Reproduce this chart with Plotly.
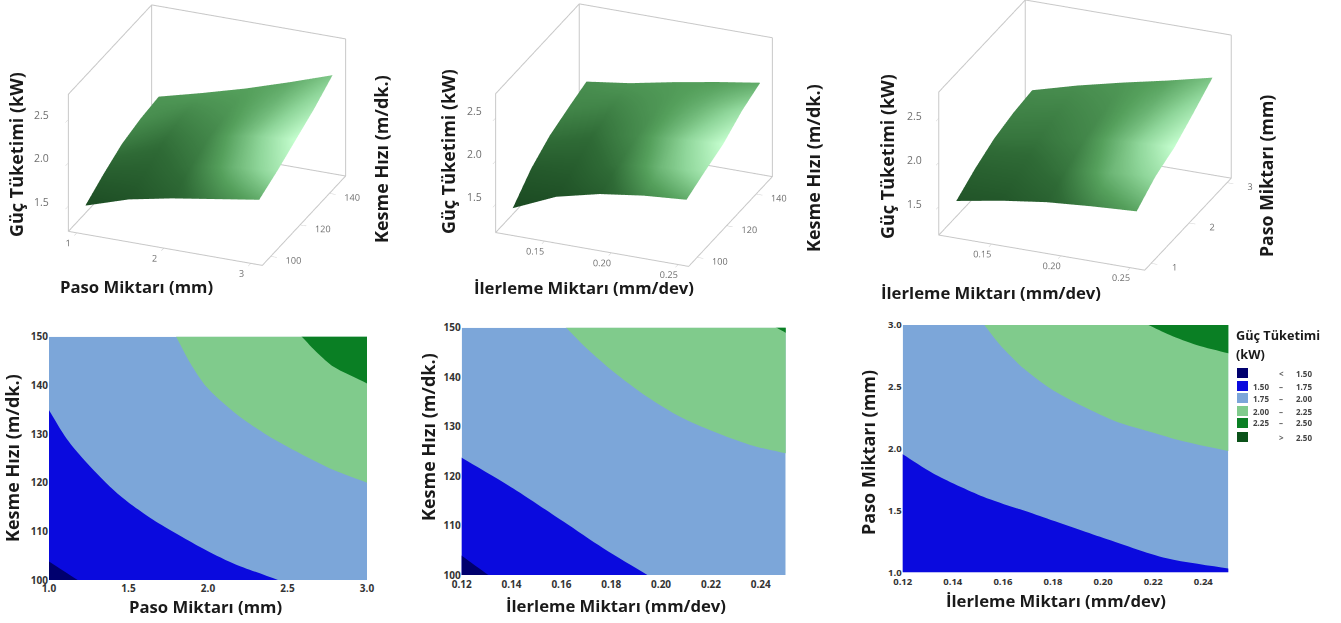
import plotly.graph_objects as go

W, H = 1341, 623
FONT = "Open Sans"

# ---------- surface data ----------
paso_grid = [1, 1.5, 2, 2.5, 3]
feed_grid = [0.12, 0.1525, 0.185, 0.2175, 0.25]
speed_grid = [100, 112.5, 125, 137.5, 150]
power_ticks = [1.5, 2.0, 2.5]

power_a = [[1.42, 1.58, 1.68, 1.76, 1.84],
           [1.56, 1.70, 1.82, 1.90, 1.95],
           [1.68, 1.82, 1.94, 2.03, 2.08],
           [1.74, 1.88, 1.99, 2.11, 2.21],
           [1.77, 1.90, 2.04, 2.20, 2.37]]
power_b = [[1.37, 1.59, 1.71, 1.78, 1.82],
           [1.60, 1.72, 1.82, 1.88, 1.92],
           [1.75, 1.85, 1.92, 1.97, 2.01],
           [1.84, 1.93, 1.99, 2.09, 2.16],
           [1.92, 1.99, 2.09, 2.18, 2.26]]
power_c = [[1.51, 1.60, 1.67, 1.71, 1.74],
           [1.65, 1.71, 1.80, 1.86, 1.91],
           [1.76, 1.85, 1.93, 1.98, 2.01],
           [1.82, 1.93, 2.02, 2.10, 2.17],
           [1.85, 1.99, 2.11, 2.22, 2.34]]
shade_a = [[.02, .08, .18, .38, .55],
           [.15, .18, .30, .60, .85],
           [.32, .28, .38, .68, 1.0],
           [.42, .38, .45, .62, .85],
           [.45, .48, .50, .55, .68]]
shade_b = [[.00, .05, .15, .40, .55],
           [.12, .15, .30, .62, .85],
           [.28, .26, .40, .70, 1.0],
           [.38, .36, .45, .60, .80],
           [.42, .46, .48, .50, .55]]
shade_c = [[.08, .10, .18, .38, .52],
           [.18, .20, .30, .60, .80],
           [.30, .30, .38, .68, 1.0],
           [.36, .36, .42, .60, .85],
           [.40, .42, .46, .52, .66]]

# ---------- contour region boundaries (x, y) ----------
a15x = [1, 1.18]; a15y = [103.8, 100]
a175x = [1, 1.11, 1.24, 1.43, 1.64, 1.95, 2.16, 2.44]
a175y = [134.9, 129.1, 124, 117.8, 112.7, 106.8, 103.4, 100]
a20x = [1.80, 1.89, 1.99, 2.16, 2.37, 2.58, 2.79, 3]
a20y = [150, 144.5, 139.7, 134.6, 129.8, 126, 122.6, 120]
a225x = [2.59, 2.69, 2.79, 3]; a225y = [150, 146.6, 143.8, 140.4]

b15x = [.12, .1307]; b15y = [103.9, 100]
b175x = [.12, .1407, .1608, .1768, .1945]; b175y = [123.7, 117.5, 110.8, 105.4, 100]
b20x = [.1619, .1702, .1809, .1942, .2076, .2210, .2357, .25]
b20y = [150, 145.8, 141.1, 136.1, 132, 129, 126.3, 124.6]
b225x = [.2464, .25]; b225y = [150, 149]

c175x = [.12, .1322, .1522, .1735, .1988, .2254, .25]
c175y = [1.954, 1.80, 1.612, 1.464, 1.288, 1.113, 1.03]
c20x = [.1526, .1589, .1682, .1788, .1921, .2054, .2187, .232, .25]
c20y = [3, 2.838, 2.65, 2.488, 2.34, 2.218, 2.137, 2.06, 1.981]
c225x = [.2181, .2267, .2373, .25]; c225y = [3, 2.919, 2.838, 2.771]

# ---------- labels ----------
power_title = "Güç Tüketimi (kW)"
paso_title = "Paso Miktarı (mm)"
feed_title = "İlerleme Miktarı (mm/dev)"
speed_title = "Kesme Hızı (m/dk.)"
legend_low = ["", "1.50", "1.75", "2.00", "2.25", ""]
legend_sep = ["<", "–", "–", "–", "–", ">"]
legend_high = ["1.50", "1.75", "2.00", "2.25", "2.50", "2.50"]
class_colors = ["#00006e", "#0a0ade", "#7ca6d9", "#80cb8c", "#0a7f24", "#0b5219"]

SURF = [[0, "#1b4a22"], [.25, "#2f6b36"], [.5, "#55a05c"], [.75, "#8fd69a"], [1, "#c6ffd0"]]
BOX = "#c8c8c8"
TICK_GREY = "#6f6f6f"


def px(x): return x / W
def py(y): return 1 - y / H


fig = go.Figure()
F = 1.34
SHIFT_Z = -0.11


def scene3d(name, cx, xv, yv, zg, shade, xr, yr, zr, xt, yt, aspect, eye, xfmt, lab_dx, lab_dy):
    fig.add_trace(go.Surface(x=xv, y=yv, z=zg, surfacecolor=shade, colorscale=SURF, cmin=0, cmax=1,
                             showscale=False, scene=name, hoverinfo="skip",
                             lighting=dict(ambient=1, diffuse=0, specular=0, roughness=1, fresnel=0)))
    # box edges sit a hair inside the axis ranges so they are not lost at the clip bounds
    ex, ey, ez = (xr[1] - xr[0]) * .002, (yr[1] - yr[0]) * .002, (zr[1] - zr[0]) * .002
    x0, x1 = xr[0] + ex, xr[1] - ex
    y0, y1 = yr[0] + ey, yr[1] - ey
    z0, z1 = zr[0] + ez, zr[1] - ez
    bx = [x0, x1, x1, x0, x0, x0, x0, x0, x1, x1]
    by = [y0, y0, y1, y1, y0, y0, y1, y1, y1, y1]
    bz = [z0, z0, z0, z0, z0, z1, z1, z0, z0, z1]
    fig.add_trace(go.Scatter3d(x=bx + [None, x0, x1], y=by + [None, y1, y1], z=bz + [None, z1, z1],
                               mode="lines", line=dict(color=BOX, width=2), showlegend=False,
                               scene=name, hoverinfo="skip"))
    ax = dict(showgrid=False, zeroline=False, showbackground=False, showspikes=False, showline=False,
              title=dict(text=""), ticks="outside", ticklen=6, tickcolor="#c8c8c8", tickangle=0,
              tickfont=dict(family=FONT, size=10.5, color=TICK_GREY))
    half_w = 200
    fig.update_layout(**{name: dict(
        domain=dict(x=[px(cx - half_w), px(cx + half_w)], y=[py(300), py(0)]),
        xaxis=dict(ax, range=xr, tickvals=xt, tickformat=xfmt),
        yaxis=dict(ax, range=yr, tickvals=yt),
        zaxis=dict(ax, range=zr, tickvals=power_ticks, showticklabels=False),
        annotations=[dict(x=xr[0], y=yr[0], z=v, text=f"{v:.1f}", showarrow=False, xshift=lab_dx, yshift=lab_dy,
                          font=dict(family=FONT, size=10.5, color=TICK_GREY)) for v in power_ticks],
        aspectmode="manual", aspectratio=dict(x=aspect[0] * F, y=aspect[1] * F, z=aspect[2] * F),
        camera=dict(projection=dict(type="orthographic"), up=dict(x=0, y=0, z=1),
                    center=dict(x=0, y=0, z=SHIFT_Z), eye=dict(x=eye[0], y=eye[1], z=eye[2] + SHIFT_Z)),
        bgcolor="white")})


k = 3
E1 = (0.3376 * k, -0.835 * k, 0.4336 * k)
E3 = (0.337 * k, -0.842 * k, 0.4264 * k)
scene3d("scene", 206.5, paso_grid, speed_grid, power_a, shade_a, [0.9, 3.14], [94, 151], [1.21, 2.80],
        [1, 2, 3], [100, 120, 140], (1.045, 1.11, .76), E1, "d", -26, 5)
scene3d("scene2", 634, feed_grid, speed_grid, power_b, shade_b, [.1134, .2584], [94, 151], [1.175, 2.79],
        [.15, .20, .25], [100, 120, 140], (1.04, 1.115, .77), E1, ".2f", -21, 8)
scene3d("scene3", 1085, feed_grid, paso_grid, power_c, shade_c, [.1119, .2609], [.82, 3.11], [1.18, 2.805],
        [.15, .20, .25], [1, 2, 3], (1.108, 1.163, .79), E3, ".2f", -24, 3)


def poly(x, y, ax_i, color, shape="linear"):
    fig.add_trace(go.Scatter(x=x, y=y, mode="lines", fill="toself", fillcolor=color,
                             line=dict(width=0, shape=shape, smoothing=0.8),
                             xaxis=f"x{ax_i}", yaxis=f"y{ax_i}", showlegend=False, hoverinfo="skip"))


def contour_panel(i, left, right, top, bottom, xr, yr, xt, yt, low, high, fs, xf, yf, standoff):
    (xa, xb), (ya, yb) = xr, yr
    dx, dy = (xb - xa) * .4, (yb - ya) * .4
    poly([xa, xb, xb, xa, xa], [ya, ya, yb, yb, ya], i, class_colors[2])

    def ext(bx, by):
        # carries a boundary past the plot edge, so its ends sit outside the clipped area
        sx = bx[0] + (bx[0] - bx[1]); sy = by[0] + (by[0] - by[1])
        ex = bx[-1] + (bx[-1] - bx[-2]); ey = by[-1] + (by[-1] - by[-2])
        return [sx] + bx + [ex], [sy] + by + [ey]

    for (bx, by), lvl in zip(low, range(1, 1 - len(low), -1)):
        gx, gy = ext(bx, by)
        poly(gx + [gx[-1], xa - dx, xa - dx], gy + [ya - dy, ya - dy, gy[0]], i, class_colors[lvl], "spline")
    for (bx, by), lvl in zip(high, range(3, 3 + len(high))):
        gx, gy = ext(bx, by)
        poly(gx + [xb + dx, xb + dx, gx[0]], gy + [gy[-1], yb + dy, yb + dy], i, class_colors[lvl], "spline")
    fig.update_layout(**{
        f"xaxis{i}": dict(domain=[px(left), px(right)], range=list(xr), tickvals=xt, tickformat=xf,
                          showgrid=False, zeroline=False, ticks="", showline=False, anchor=f"y{i}",
                          automargin=False, ticklabelstandoff=standoff,
                          tickfont=dict(family=FONT, size=fs, color="#333333", weight="bold")),
        f"yaxis{i}": dict(domain=[py(bottom), py(top)], range=list(yr), tickvals=yt, tickformat=yf,
                          showgrid=False, zeroline=False, ticks="", showline=False, anchor=f"x{i}",
                          automargin=False,
                          tickfont=dict(family=FONT, size=fs, color="#333333", weight="bold")),
    })


contour_panel(4, 49, 367, 336.7, 580, (1, 3), (100, 150), [1, 1.5, 2, 2.5, 3], [100, 110, 120, 130, 140, 150],
              [(a175x, a175y), (a15x, a15y)], [(a20x, a20y), (a225x, a225y)], 10, ".1f", "d", 1)
contour_panel(5, 461.7, 785.7, 327.7, 575, (.12, .25), (100, 150), [.12, .14, .16, .18, .20, .22, .24],
              [100, 110, 120, 130, 140, 150],
              [(b175x, b175y), (b15x, b15y)], [(b20x, b20y), (b225x, b225y)], 10, ".2f", "d", 2)
contour_panel(6, 902.7, 1228.3, 325, 572.3, (.12, .25), (1, 3), [.12, .14, .16, .18, .20, .22, .24],
              [1, 1.5, 2, 2.5, 3],
              [(c175x, c175y)], [(c20x, c20y), (c225x, c225y)], 9.5, ".2f", ".1f", 2)


def label(text, x, y, size=16, angle=0, color="#1a1a1a", bold=True, xanchor="center"):
    fig.add_annotation(text=f"<b>{text}</b>" if bold else text, x=px(x), y=py(y), xref="paper", yref="paper",
                       showarrow=False, textangle=angle, xanchor=xanchor, yanchor="middle",
                       font=dict(family=FONT, size=size, color=color))


for t, x, y, a, s in [
    (power_title, 16, 155, -90, 18), (speed_title, 381, 159, -90, 18), (paso_title, 136, 286, 0, 16.7),
    (power_title, 448, 152, -90, 18), (speed_title, 813, 168, -90, 18), (feed_title, 584, 287, 0, 16.7),
    (power_title, 887, 157, -90, 18), (paso_title, 1266, 176, -90, 17.7), (feed_title, 991, 293, 0, 16.7),
    (speed_title, 12, 458, -90, 18), (paso_title, 205, 606, 0, 16.7),
    (speed_title, 428, 437, -90, 18), (feed_title, 616, 605, 0, 16.7),
    (paso_title, 868, 453, -90, 18), (feed_title, 1056, 600, 0, 16.7),
]:
    label(t, x, y, s, a)

# legend
label("Güç Tüketimi", 1234, 335, 12.7, xanchor="left")
label("(kW)", 1234, 354, 12.7, xanchor="left")
row_y = [373, 386, 398, 411, 423, 437]
for yy, col, lo, sep, hi in zip(row_y, class_colors, legend_low, legend_sep, legend_high):
    fig.add_shape(type="rect", xref="paper", yref="paper", x0=px(1237), x1=px(1248), y0=py(yy + 5), y1=py(yy - 5),
                  fillcolor=col, line=dict(width=0))
    if lo:
        label(lo, 1271, yy, 8, color="#444444", xanchor="right")
    label(sep, 1281, yy, 8, color="#666666")
    label(hi, 1294, yy, 8, color="#444444", xanchor="left")

fig.update_layout(width=W, height=H, margin=dict(l=0, r=0, t=0, b=0, autoexpand=False), paper_bgcolor="white",
                  plot_bgcolor="white", showlegend=False, font=dict(family=FONT))
fig.write_html("out.html", config=dict(displayModeBar=False), post_script='document.body.style.margin="0";')
